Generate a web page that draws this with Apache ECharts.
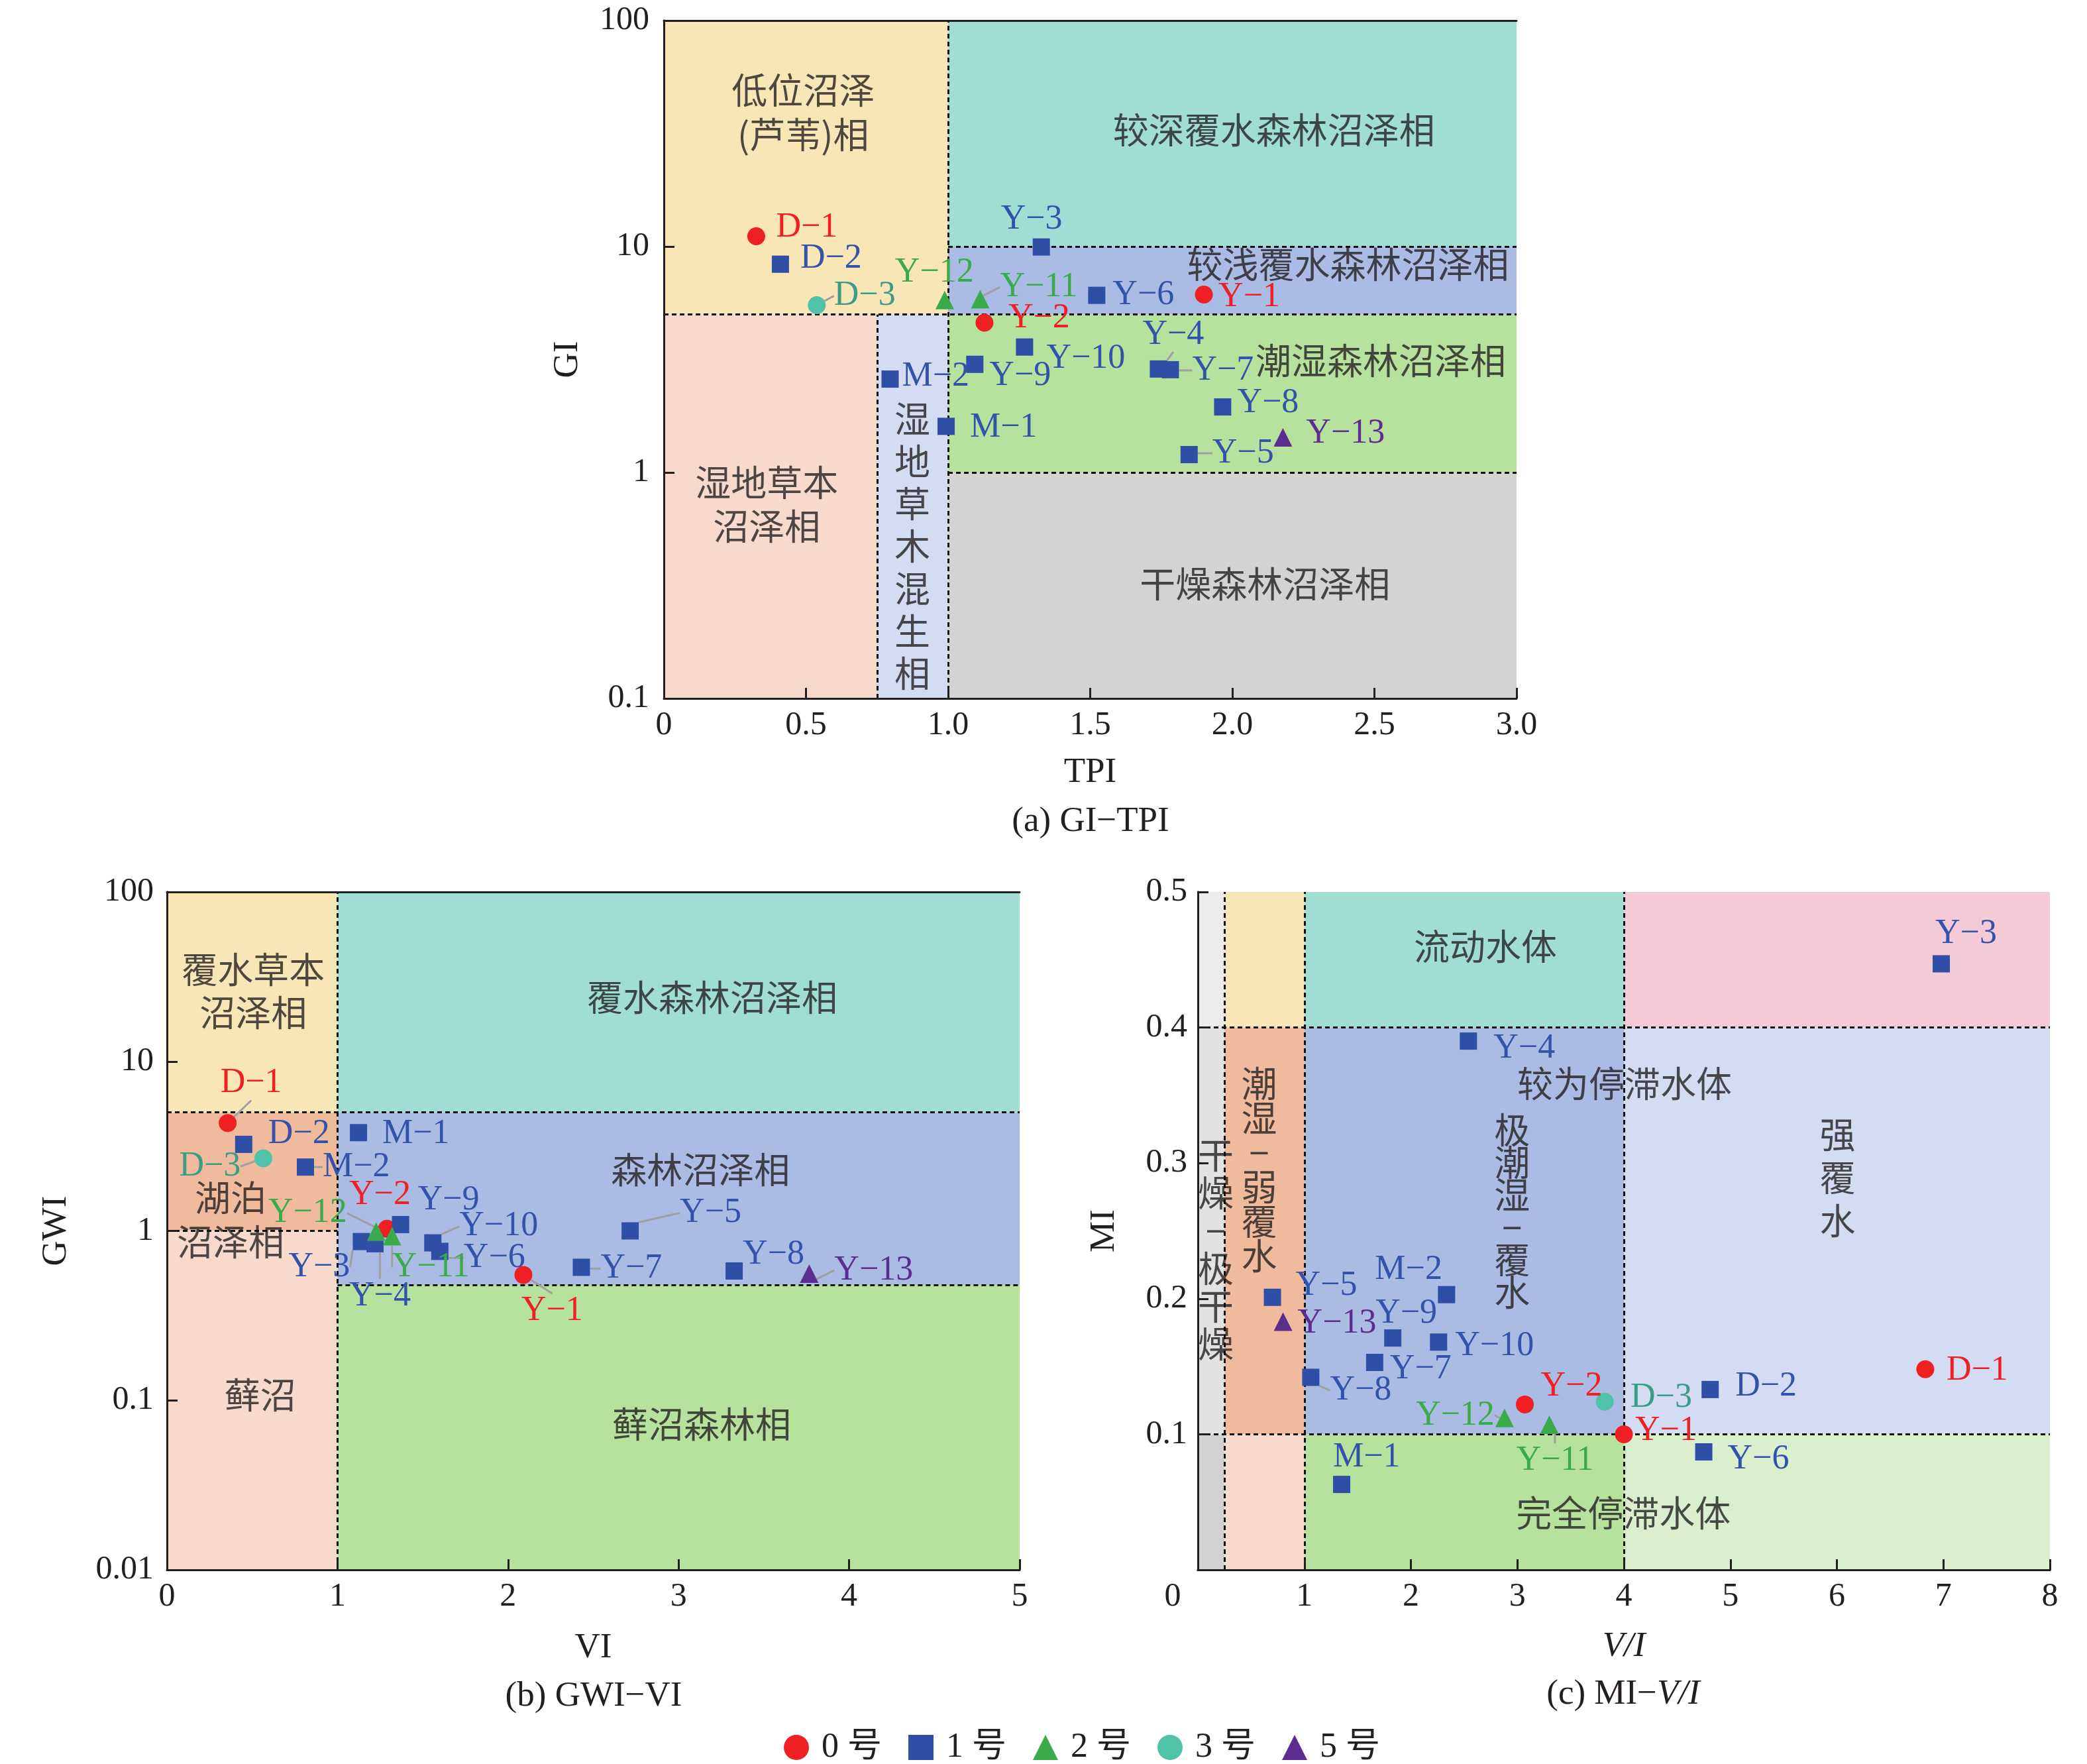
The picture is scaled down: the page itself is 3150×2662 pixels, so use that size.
<!DOCTYPE html>
<html><head><meta charset="utf-8">
<script src="https://cdn.jsdelivr.net/npm/echarts@6/dist/echarts.min.js"></script>
<style>html,body{margin:0;padding:0;background:#fff}#c{width:3150px;height:2662px}</style>
</head><body><div id="c"></div>
<script>
// ---------------- DATA ----------------
const samples   = ['D-1','D-2','D-3','M-1','M-2','Y-1','Y-2','Y-3','Y-4','Y-5','Y-6','Y-7','Y-8','Y-9','Y-10','Y-11','Y-12','Y-13'];
const groups    = ['0 号','1 号','2 号','3 号','5 号'];
const sampleGroup = [0,1,3,1,1,0,0,1,1,1,1,1,1,1,1,2,2,4];

// (a) GI-TPI
const TPI = [0.325,0.41,0.538,0.993,0.796,1.90,1.128,1.328,1.74,1.848,1.523,1.782,1.966,1.094,1.269,1.113,0.988,2.178];
const GI  = [11.1,8.35,5.5,1.6,2.59,6.13,4.6,9.95,2.87,1.2,6.08,2.85,1.95,3.01,3.59,5.85,5.8,1.43];
// (b) GWI-VI
const VI  = [0.356,0.45,0.565,1.123,0.812,2.09,1.29,1.14,1.22,2.716,1.60,2.43,3.326,1.37,1.559,1.32,1.227,3.766];
const GWI = [4.33,3.24,2.68,3.8,2.38,0.55,1.03,0.865,0.84,1.0,0.757,0.61,0.58,1.09,0.85,0.93,0.99,0.56];
// (c) MI-V/I
const VIratio = [6.83,4.81,3.82,1.35,2.335,4.0,3.07,6.98,2.54,0.70,4.75,1.66,1.06,1.83,2.26,3.30,2.88,0.80];
const MI      = [0.148,0.133,0.124,0.063,0.203,0.100,0.122,0.447,0.390,0.201,0.087,0.153,0.142,0.171,0.168,0.107,0.112,0.183];

// axis ticks
const ticksA_x = [0,3,0.5]; const ticksA_y = [0.1,100];
const ticksB_x = [0,5,1];   const ticksB_y = [0.01,100];
const ticksC_x = [0,8,1];   const ticksC_y = [0,0.5,0.1];

// facies regions: [x0,x1,y0,y1,colourKey]
const regionsA = [[0,1,5,100,'yellow'],[1,3,10,100,'teal'],[1,3,5,10,'blue'],[1,3,1,5,'green'],[1,3,0.1,1,'gray'],[0,0.75,0.1,5,'peach'],[0.75,1,0.1,5,'lightBlue']];
const regionsB = [[0,1,5,100,'yellow'],[1,5,5,100,'teal'],[0,1,1,5,'orange'],[1,5,0.48,5,'blue'],[0,1,0.01,1,'peach'],[1,5,0.01,0.48,'green']];
const regionsC = [[0,0.25,0.4,0.5,'grayTop'],[0,0.25,0.1,0.4,'grayMid'],[0,0.25,0,0.1,'grayBot'],
                  [0.25,1,0.4,0.5,'yellow'],[0.25,1,0.1,0.4,'orange'],[0.25,1,0,0.1,'peach'],
                  [1,4,0.4,0.5,'teal'],[1,4,0.1,0.4,'blue'],[1,4,0,0.1,'green'],
                  [4,8,0.4,0.5,'pink'],[4,8,0.1,0.4,'lightBlue'],[4,8,0,0.1,'lightGreen']];
// boundary lines: [x0,y0,x1,y1]
const linesA = [[0,5,3,5],[1,10,3,10],[1,1,3,1],[1,0.1,1,100],[0.75,0.1,0.75,5]];
const linesB = [[0,5,5,5],[1,0.48,5,0.48],[0,1,1,1],[1,0.01,1,100]];
const linesC = [[0,0.4,8,0.4],[0,0.1,8,0.1],[0.25,0,0.25,0.5],[1,0,1,0.5],[4,0,4,0.5]];

// facies names and their anchor (data coords)
const faciesA = [['低位沼泽\n(芦苇)相',0.49,39],['较深覆水森林沼泽相',2.146,32.7],['较浅覆水森林沼泽相',2.407,8.3],['潮湿森林沼泽相',2.522,3.12],['干燥森林沼泽相',2.115,0.32],['湿地草本\n沼泽相',0.362,0.72],['湿\n地\n草\n木\n混\n生\n相',0.874,0.47]];
const faciesB = [['覆水草本\n沼泽相',0.506,26],['覆水森林沼泽相',3.197,23.8],['森林沼泽相',3.128,2.3],['湖泊\n沼泽相',0.373,1.16],['藓沼',0.547,0.107],['藓沼森林相',3.135,0.0722]];
const faciesC = [['流动水体',2.70,0.4595],['较为停滞水体',4.006,0.3587],['极\n潮\n湿\n−\n覆\n水',2.95,0.2644],['强\n覆\n水',6.006,0.289],['潮\n湿\n−\n弱\n覆\n水',0.575,0.295],['干\n燥\n−\n极\n干\n燥',0.168,0.236],['完全停滞水体',3.995,0.042]];

// ---------------- STYLE / LAYOUT ----------------
const fill = {yellow:'#f9e6b7',teal:'#a0ded4',blue:'#aabbe4',green:'#b6e29e',gray:'#d3d3d3',peach:'#f7dacb',
  lightBlue:'#d4dcf3',orange:'#f0ba9c',pink:'#f5cad7',lightGreen:'#daefce',grayTop:'#ececec',grayMid:'#e2e2e2',grayBot:'#d2d2d2'};
const faciesLH = {A:[67,0,0,0,0,66,64], B:[65,0,0,67,0,0], C:[0,0,49,65,52,57,0]};
const symColor = ['#ee2024','#2f4ea6','#3aaa4a','#4fc2a8','#5b2d8f'];
const lblColor = ['#ee2024','#3352aa','#3aaa4a','#3c9c88','#5b2d8f'];
const symShape = ['circle','rect','triangle','circle','triangle'];
const ink = '#231f20';
const SERIF = "'Liberation Serif','Noto Sans CJK SC',serif";
const CJK = "'Noto Sans CJK SC','Liberation Serif',sans-serif";

const grids = [
  {left:1002, top:31,   width:1287, height:1023},
  {left:252,  top:1346, width:1287, height:1023},
  {left:1808, top:1346, width:1286, height:1023}
];
// label offsets (px from symbol centre to label left/middle)
const offA = {'D-1':[30,-13],'D-2':[30,-8],'D-3':[26,-14],'M-1':[36,2],'M-2':[18,-4],'Y-1':[22,4],'Y-2':[36,-7],'Y-3':[-61,-41],
  'Y-4':[-24,-52],'Y-5':[35,-2],'Y-6':[24,0],'Y-7':[33,1],'Y-8':[22,-6],'Y-9':[22,18],'Y-10':[33,18],'Y-11':[30,-18],'Y-12':[-75,-41],'Y-13':[35,-6]};
const offB = {'D-1':[-11,-60],'D-2':[37,-16],'D-3':[-127,12],'M-1':[36,2],'M-2':[26,0],'Y-1':[-3,54],'Y-2':[-57,-51],'Y-3':[-110,39],
  'Y-4':[-39,79],'Y-5':[75,-27],'Y-6':[36,10],'Y-7':[29,2],'Y-8':[13,-25],'Y-9':[26,-37],'Y-10':[40,-25],'Y-11':[0,47],'Y-12':[-163,-28],'Y-13':[38,-5]};
const offC = {'D-1':[32,2],'D-2':[38,-5],'D-3':[39,-6],'M-1':[-13,-41],'M-2':[-108,-37],'Y-1':[17,-5],'Y-2':[24,-27],'Y-3':[-9,-45],
  'Y-4':[38,11],'Y-5':[35,-17],'Y-6':[36,11],'Y-7':[23,10],'Y-8':[29,20],'Y-9':[-26,-37],'Y-10':[25,6],'Y-11':[-50,54],'Y-12':[-134,-4],'Y-13':[22,3]};
const leadA = ['Y-4','Y-5','Y-7','D-3','Y-11'];
const leadB = ['D-1','D-3','M-2','Y-1','Y-3','Y-4','Y-5','Y-6','Y-7','Y-10','Y-11','Y-12','Y-13'];
const leadC = ['Y-8','Y-11','Y-12'];

// ---------------- BUILD ----------------
const xAxes = [], yAxes = [], series = [];
function fmtLog(v){ return v >= 1 ? String(Math.round(v)) : String(+v.toFixed(3)); }
const axLine = {show:true, lineStyle:{color:ink, width:3}};
const tick = {show:true, inside:true, length:16, lineStyle:{color:ink, width:3}};
const lab = {fontFamily:SERIF, fontSize:50, color:ink};
const nameStyle = {fontFamily:SERIF, fontSize:53, color:ink};

function addPanel(gi, cfg){
  xAxes.push(Object.assign({gridIndex:gi, type:'value', position:'bottom', axisLine:axLine, axisTick:tick,
    splitLine:{show:false}, z:10, nameLocation:'middle', nameTextStyle:nameStyle,
    axisLabel:Object.assign({margin:16}, lab)}, cfg.x));
  yAxes.push(Object.assign({gridIndex:gi, position:'left', axisLine:axLine, axisTick:tick,
    splitLine:{show:false}, z:10, nameLocation:'middle', nameTextStyle:nameStyle,
    axisLabel:Object.assign({margin:20}, lab)}, cfg.y));
  xAxes.push({gridIndex:gi, type:'value', position:'top', min:0, max:1, axisLine:axLine, axisTick:{show:false}, axisLabel:{show:false}, splitLine:{show:false}, z:10});
  yAxes.push({gridIndex:gi, type:'value', position:'right', min:0, max:1, axisLine:axLine, axisTick:{show:false}, axisLabel:{show:false}, splitLine:{show:false}, z:10});
  const xi = gi*2, yi = gi*2;
  series.push({type:'scatter', xAxisIndex:xi, yAxisIndex:yi, data:[], silent:true, z:1,
    markArea:{silent:true, data: cfg.regions.map(r => [{xAxis:r[0], yAxis:r[2], itemStyle:{color:fill[r[4]]}},{xAxis:r[1], yAxis:r[3]}])}});
  series.push({type:'scatter', xAxisIndex:xi, yAxisIndex:yi, data:[], silent:true, z:2,
    markLine:{silent:true, symbol:['none','none'], label:{show:false},
      lineStyle:{color:'#111', width:3, type:[7,5]},
      data: cfg.lines.map(l => [{coord:[l[0],l[1]]},{coord:[l[2],l[3]]}])}});
  series.push({type:'scatter', xAxisIndex:xi, yAxisIndex:yi, silent:true, z:3, symbolSize:0,
    data: cfg.facies.map((f,i) => ({value:[f[1],f[2]], name:f[0],
      label: cfg.lh[i] ? {lineHeight:cfg.lh[i]} : {}})),
    label:{show:true, position:'inside', formatter:p=>p.name, fontFamily:CJK, fontSize:54, color:ink, lineHeight:66, align:'center', verticalAlign:'middle'}});
  groups.forEach((g, k) => {
    const idx = samples.map((s,i)=>i).filter(i => sampleGroup[i] === k);
    const names = idx.map(i => samples[i]);
    series.push({type:'scatter', name:g, xAxisIndex:xi, yAxisIndex:yi, z:5,
      symbol:symShape[k], symbolSize: k===1 ? 26 : (symShape[k]==='triangle' ? 28 : 27),
      itemStyle:{color:symColor[k], opacity:1},
      data: idx.map(i => ({value:[cfg.xs[i], cfg.ys[i]], name:samples[i],
        labelLine:{show: cfg.lead.indexOf(samples[i]) >= 0}})),
      label:{show:true, formatter:p=>p.name.replace('-','−'), fontFamily:SERIF, fontSize:52, color:lblColor[k]},
      labelLine:{show:false, smooth:false, lineStyle:{color:'#a0a0a0', width:3}},
      labelLayout: function(p){
        const o = cfg.off[names[p.dataIndex]] || [20,0];
        return {x: p.rect.x + p.rect.width/2 + o[0], y: p.rect.y + p.rect.height/2 + o[1], align:'left', verticalAlign:'middle'};
      }
    });
  });
}

addPanel(0, {
  x:{min:ticksA_x[0], max:ticksA_x[1], interval:ticksA_x[2], name:'TPI', nameGap:86,
     axisLabel:Object.assign({margin:16, formatter:v=> v===0?'0':v.toFixed(1)}, lab)},
  y:{type:'log', logBase:10, min:ticksA_y[0], max:ticksA_y[1], name:'GI', nameGap:118,
     axisLabel:Object.assign({margin:22, formatter:fmtLog}, lab)},
  regions:regionsA, lines:linesA, facies:faciesA, lh:faciesLH.A, xs:TPI, ys:GI, off:offA, lead:leadA
});
addPanel(1, {
  x:{min:ticksB_x[0], max:ticksB_x[1], interval:ticksB_x[2], name:'VI', nameGap:92,
     axisLabel:Object.assign({margin:16}, lab)},
  y:{type:'log', logBase:10, min:ticksB_y[0], max:ticksB_y[1], name:'GWI', nameGap:140,
     axisLabel:Object.assign({margin:20, formatter:fmtLog}, lab)},
  regions:regionsB, lines:linesB, facies:faciesB, lh:faciesLH.B, xs:VI, ys:GWI, off:offB, lead:leadB
});
addPanel(2, {
  x:{min:ticksC_x[0], max:ticksC_x[1], interval:ticksC_x[2], name:'V/I', nameGap:90,
     nameTextStyle:Object.assign({}, nameStyle, {fontStyle:'italic'}),
     axisLabel:Object.assign({margin:16, formatter:v=> v===0?'{z|0}':String(v), rich:{z:{fontFamily:SERIF,fontSize:50,color:ink,padding:[0,76,0,0]}}}, lab)},
  y:{type:'value', min:ticksC_y[0], max:ticksC_y[1], interval:ticksC_y[2], name:'MI', nameGap:114,
     axisLabel:Object.assign({margin:16, formatter:v=> v===0?'':v.toFixed(1)}, lab)},
  regions:regionsC, lines:linesC, facies:faciesC, lh:faciesLH.C, xs:VIratio, ys:MI, off:offC, lead:leadC
});

const capStyle = {fontFamily:SERIF, fontSize:53, fill:ink};
const option = {
  backgroundColor:'#fff',
  animation:false,
  grid: grids,
  xAxis: xAxes,
  yAxis: yAxes,
  series: series,
  legend:{data:groups, left:1178, top:2606, itemWidth:38, itemHeight:38, itemGap:40,
    textStyle:{fontFamily:SERIF, fontSize:52, color:ink, padding:[0,0,0,14]}},
  graphic:[
    {type:'text', x:1646, y:1240, style:Object.assign({text:'(a) GI−TPI', textAlign:'center', textVerticalAlign:'middle', font:"53px "+SERIF}, capStyle)},
    {type:'text', x:896, y:2560, style:Object.assign({text:'(b) GWI−VI', textAlign:'center', textVerticalAlign:'middle', font:"53px "+SERIF}, capStyle)},
    {type:'text', x:2450, y:2557, style:{text:'{n|(c) MI−}{i|V/I}', textAlign:'center', textVerticalAlign:'middle',
      rich:{n:{fontFamily:SERIF,fontSize:53,fill:ink,color:ink}, i:{fontFamily:SERIF,fontSize:53,fontStyle:'italic',fill:ink,color:ink}}}}
  ]
};
const chart = echarts.init(document.getElementById('c'), null, {renderer:'canvas', width:3150, height:2662});
chart.setOption(option);
</script></body></html>
